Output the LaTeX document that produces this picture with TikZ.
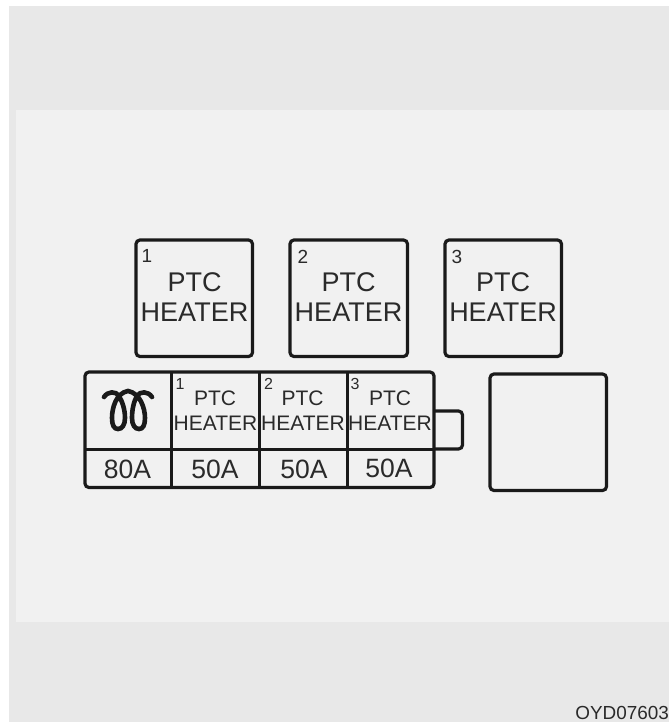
\documentclass[tikz,border=0pt]{standalone}
\usepackage{fontspec}
\setmainfont{Liberation Sans}
\definecolor{outerbg}{HTML}{E8E8E8}
\definecolor{innerbg}{HTML}{F1F1F1}
\definecolor{ink}{HTML}{1A1A1A}
\definecolor{txt}{HTML}{2A2A2A}
\tikzset{
  frame/.style={draw=ink,line width=3.2pt,rounded corners=4pt},
  rule/.style={draw=ink,line width=3pt},
  bigtext/.style={text=txt,font=\fontsize{27}{29}\selectfont,align=center,inner sep=0pt},
  midtext/.style={text=txt,font=\fontsize{21}{24}\selectfont,align=center,inner sep=0pt},
  amp/.style={text=txt,font=\fontsize{26.5}{28}\selectfont,inner sep=0pt},
  num/.style={text=txt,inner sep=0pt}
}
\begin{document}
\begin{tikzpicture}[x=1pt,y=-1pt]
\useasboundingbox (0,0) rectangle (669,722);
\fill[outerbg] (9,6) rectangle (669,722);
\fill[innerbg] (16,110) rectangle (669,622);
% top boxes
\draw[frame] (136,240) rectangle (252.5,356.5);
\draw[frame] (290,240) rectangle (407.5,356.5);
\draw[frame] (445,240) rectangle (561.5,356.5);
\node[num,font=\fontsize{19}{19}\selectfont] (n1) at (147,256) {1};
\node[num,font=\fontsize{19}{19}\selectfont] (n2) at (303,257) {2};
\node[num,font=\fontsize{19}{19}\selectfont] (n3) at (457,257) {3};
\node[bigtext] (t1) at (194.5,282) {PTC};
\node[bigtext] (t1b) at (194.5,312) {HEATER};
\node[bigtext] (t2) at (348.5,282) {PTC};
\node[bigtext] (t2b) at (348.5,312) {HEATER};
\node[bigtext] (t3) at (503,282) {PTC};
\node[bigtext] (t3b) at (503,312) {HEATER};
% empty box
\draw[frame] (490,374) rectangle (606.5,490.5);
% tab
\draw[frame] (434,411) -- (462.5,411) -- (462.5,449) -- (434,449);
% fuse block
\draw[frame] (85,372) rectangle (434,487.5);
\draw[rule] (85,449) -- (434,449);
\draw[rule] (171,372) -- (171,487.5);
\draw[rule] (259,372) -- (259,487.5);
\draw[rule] (347,372) -- (347,487.5);
% coil
\draw[ink,line width=4.6pt,line cap=round]
  (104,397) .. controls (108,391) and (116,391) .. (119,396)
  .. controls (122,401) and (125,409) .. (125,418)
  .. controls (125,425) and (122,429) .. (118,429)
  .. controls (114,429) and (112,425) .. (112,418)
  .. controls (112,408) and (116,393) .. (128,391)
  .. controls (140,393) and (145,408) .. (145,418)
  .. controls (145,425) and (143,429) .. (139,429)
  .. controls (135,429) and (132,425) .. (132,418)
  .. controls (132,409) and (134,401) .. (137,396)
  .. controls (140,391) and (148,391) .. (152,397);
% fuse labels
\node[num,font=\fontsize{16}{16}\selectfont] (s1) at (180,384) {1};
\node[num,font=\fontsize{16}{16}\selectfont] (s2) at (268.5,384) {2};
\node[num,font=\fontsize{16}{16}\selectfont] (s3) at (355,384) {3};
\node[midtext] (f1) at (215,398) {PTC};
\node[midtext] (f1b) at (215.5,423) {HEATER};
\node[midtext] (f2) at (302.5,398) {PTC};
\node[midtext] (f2b) at (303,423) {HEATER};
\node[midtext] (f3) at (390,398) {PTC};
\node[midtext] (f3b) at (390,423) {HEATER};
\node[amp] (a1) at (127.5,469) {80A};
\node[amp] (a2) at (215,469) {50A};
\node[amp] (a3) at (304,469) {50A};
\node[amp] (a4) at (389,468) {50A};
\node[text=txt,font=\fontsize{18.9}{20}\selectfont,anchor=east,inner sep=0pt] (code) at (669,713) {OYD07603};
\end{tikzpicture}
\end{document}
